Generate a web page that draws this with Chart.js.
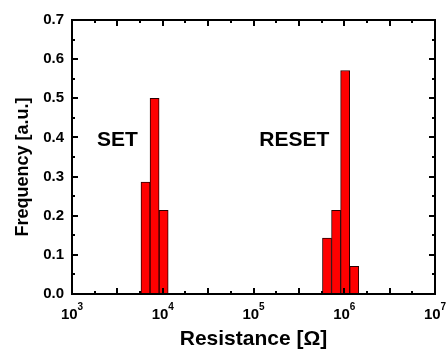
<!DOCTYPE html>
<html lang="en">

<head>
    <meta charset="UTF-8">
    <title>Resistance histogram</title>
    <script src="https://cdn.jsdelivr.net/npm/chart.js"></script>
    <style>
        html, body { margin: 0; padding: 0; background: #fff; }
        #wrap { width: 447px; height: 351px; }
    </style>
</head>

<body>
    <div id="wrap"><canvas id="chart" width="447" height="351"></canvas></div>

    <script>
        // bin centres (ohm) and normalised counts
        const setResistance = [6457, 8128, 10233];
        const setFrequency = [0.286, 0.500, 0.214];
        const resetResistance = [645650, 812830, 1023290, 1288250];
        const resetFrequency = [0.143, 0.214, 0.571, 0.071];

        const xDecades = [3, 4, 5, 6, 7];
        const yTicks = [0, 0.1, 0.2, 0.3, 0.4, 0.5, 0.6, 0.7];

        const FONT = "'Liberation Sans', Arial, Helvetica, sans-serif";

        function toPoints(xs, ys) {
            return xs.map((x, i) => ({ x: x, y: ys[i] }));
        }

        // frame, inward ticks, x labels with exponents, titles
        const framePlugin = {
            id: 'frame',
            afterDraw(chart) {
                const ctx = chart.ctx;
                const a = chart.chartArea;
                const xs = chart.scales.x;
                const ys = chart.scales.y;
                ctx.save();
                ctx.strokeStyle = '#000';
                ctx.fillStyle = '#000';

                // ticks along x (quarter decades, long on half decades)
                ctx.lineWidth = 2;
                for (let k = 3.25; k < 7; k += 0.25) {
                    const px = Math.round(xs.getPixelForValue(Math.pow(10, k)));
                    const len = (k * 2) % 1 === 0 ? 6 : 3;
                    ctx.beginPath();
                    ctx.moveTo(px, a.bottom);
                    ctx.lineTo(px, a.bottom - len);
                    ctx.moveTo(px, a.top);
                    ctx.lineTo(px, a.top + len);
                    ctx.stroke();
                }
                // ticks along y
                for (let i = 1; i < 14; i++) {
                    const v = i * 0.05;
                    const py = Math.round(ys.getPixelForValue(v));
                    const len = i % 2 === 0 ? 6 : 3;
                    ctx.beginPath();
                    ctx.moveTo(a.left, py);
                    ctx.lineTo(a.left + len, py);
                    ctx.moveTo(a.right, py);
                    ctx.lineTo(a.right - len, py);
                    ctx.stroke();
                }

                // frame
                ctx.lineWidth = 2;
                ctx.strokeRect(a.left, a.top, a.right - a.left, a.bottom - a.top);

                // x tick labels 10^n
                ctx.textBaseline = 'alphabetic';
                xDecades.forEach(n => {
                    const px = xs.getPixelForValue(Math.pow(10, n));
                    ctx.font = 'bold 15px ' + FONT;
                    const wBase = ctx.measureText('10').width;
                    ctx.font = 'bold 10px ' + FONT;
                    const wExp = ctx.measureText(String(n)).width;
                    const x0 = px - (wBase + wExp) / 2;
                    ctx.textAlign = 'left';
                    ctx.font = 'bold 15px ' + FONT;
                    ctx.fillText('10', x0, 319);
                    ctx.font = 'bold 10px ' + FONT;
                    ctx.fillText(String(n), x0 + wBase, 310);
                });

                // axis titles
                ctx.textAlign = 'center';
                ctx.font = 'bold 21px ' + FONT;
                ctx.fillText('Resistance [\u03A9]', (a.left + a.right) / 2, 345);

                ctx.save();
                ctx.translate(28, 167);
                ctx.rotate(-Math.PI / 2);
                ctx.font = 'bold 18px ' + FONT;
                ctx.fillText('Frequency [a.u.]', 0, 0);
                ctx.restore();

                // state labels
                ctx.font = 'bold 21px ' + FONT;
                ctx.textAlign = 'center';
                ctx.fillText('SET', xs.getPixelForValue(3162), ys.getPixelForValue(0.378));
                ctx.fillText('RESET', xs.getPixelForValue(282000), ys.getPixelForValue(0.378));
                ctx.restore();
            }
        };

        const barStyle = {
            backgroundColor: '#ff0000',
            borderColor: '#2a0000',
            borderWidth: 1,
            barPercentage: 1,
            categoryPercentage: 1,
            grouped: false
        };

        new Chart(document.getElementById('chart'), {
            type: 'bar',
            data: {
                datasets: [
                    Object.assign({ label: 'SET', data: toPoints(setResistance, setFrequency) }, barStyle),
                    Object.assign({ label: 'RESET', data: toPoints(resetResistance, resetFrequency) }, barStyle)
                ]
            },
            options: {
                responsive: false,
                animation: false,
                devicePixelRatio: 1,
                layout: { padding: { top: 20, right: 12, left: 0, bottom: 0 } },
                plugins: {
                    legend: { display: false },
                    tooltip: { enabled: false }
                },
                scales: {
                    x: {
                        type: 'logarithmic',
                        min: 1000,
                        max: 10000000,
                        // decades only, so bar width follows the bin spacing
                        afterBuildTicks(scale) {
                            scale.ticks = xDecades.map(n => ({ value: Math.pow(10, n) }));
                        },
                        ticks: { display: false },
                        grid: { display: false, drawTicks: false },
                        border: { display: false },
                        afterFit(scale) { scale.height = 57; }
                    },
                    y: {
                        min: 0,
                        max: 0.7,
                        afterBuildTicks(scale) {
                            scale.ticks = yTicks.map(v => ({ value: v }));
                        },
                        ticks: {
                            padding: 8,
                            color: '#000',
                            font: { family: FONT, size: 15, weight: 'bold' },
                            callback: v => v.toFixed(1)
                        },
                        grid: { display: false, drawTicks: false },
                        border: { display: false },
                        afterFit(scale) { scale.width = 72; }
                    }
                }
            },
            plugins: [framePlugin]
        });
    </script>
</body>

</html>
